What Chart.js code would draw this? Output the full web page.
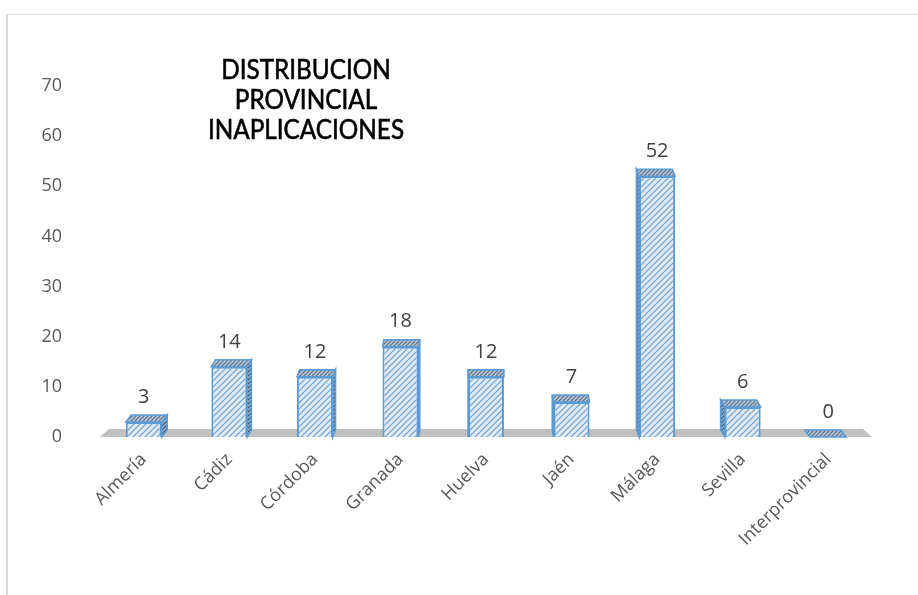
<!DOCTYPE html>
<html>
<head>
<meta charset="utf-8">
<script src="https://cdn.jsdelivr.net/npm/chart.js@4.4.1/dist/chart.umd.min.js"></script>
<style>
  html, body { margin: 0; padding: 0; background: #fff; }
  #wrap { position: relative; width: 918px; height: 595px; overflow: hidden; }
  #frame { position: absolute; left: 6px; top: 14px; width: 1000px; height: 1000px;
           border-top: 1px solid #d9d9d9; border-left: 2px solid #d9d9d9; }
  canvas { position: absolute; left: 0; top: 0; }
</style>
</head>
<body>
<div id="wrap">
  <div id="frame"></div>
  <canvas id="chart" width="918" height="595"></canvas>
</div>
<script>
const categories = ['Almería', 'Cádiz', 'Córdoba', 'Granada', 'Huelva', 'Jaén', 'Málaga', 'Sevilla', 'Interprovincial'];
const values = [3, 14, 12, 18, 12, 7, 52, 6, 0];
const titleLines = ['DISTRIBUCION', 'PROVINCIAL', 'INAPLICACIONES'];

function hatch(bg, fg, size) {
  const c = document.createElement('canvas');
  c.width = size; c.height = size;
  const g = c.getContext('2d');
  g.fillStyle = bg;
  g.fillRect(0, 0, size, size);
  g.strokeStyle = fg;
  g.lineWidth = 1.2;
  g.beginPath();
  g.moveTo(-1, size + 1); g.lineTo(size + 1, -1);
  g.moveTo(-1, 1); g.lineTo(1, -1);
  g.moveTo(size - 1, size + 1); g.lineTo(size + 1, size - 1);
  g.stroke();
  return g.createPattern(c, 'repeat');
}

const ctx = document.getElementById('chart').getContext('2d');
const frontFill = hatch('#deebf7', '#6f9fd0', 6);
const topFill = hatch('#b4c3d3', '#5f7389', 4);
const sideFill = hatch('#8faac6', '#3f5f82', 4);

const depth3d = {
  id: 'depth3d',
  beforeDatasetsDraw(chart) {
    const c = chart.ctx;
    const area = chart.chartArea;
    const base = chart.scales.y.getPixelForValue(0);
    // grey floor
    c.save();
    c.fillStyle = '#c0c0c0';
    c.beginPath();
    c.moveTo(area.left - 1, base);
    c.lineTo(area.right + 1, base);
    c.lineTo(area.right - 8, base - 8);
    c.lineTo(area.left + 8, base - 8);
    c.closePath();
    c.fill();

    const mid = (area.left + area.right) / 2;
    chart.getDatasetMeta(0).data.forEach(function(bar) {
      const w = bar.width, l = bar.x - w / 2, r = bar.x + w / 2;
      const dx = (mid - bar.x) * 0.016, dy = -7;
      c.lineWidth = 1.5;
      c.strokeStyle = '#5b9bd5';
      // side face
      const sx = dx > 0 ? r : l;
      c.fillStyle = sideFill;
      c.beginPath();
      c.moveTo(sx, bar.y); c.lineTo(sx + dx, bar.y + dy);
      c.lineTo(sx + dx, bar.base + dy); c.lineTo(sx, bar.base);
      c.closePath(); c.fill(); c.stroke();
      // top face
      c.fillStyle = topFill;
      c.beginPath();
      c.moveTo(l, bar.y); c.lineTo(r, bar.y);
      c.lineTo(r + dx, bar.y + dy); c.lineTo(l + dx, bar.y + dy);
      c.closePath(); c.fill(); c.stroke();
    });
    c.restore();
  },
  afterDatasetsDraw(chart) {
    const c = chart.ctx;
    c.save();
    c.fillStyle = '#404040';
    c.font = '20px "Open Sans"';
    c.textAlign = 'center';
    c.textBaseline = 'middle';
    chart.getDatasetMeta(0).data.forEach(function(bar, i) {
      c.fillText(String(values[i]), bar.x, bar.y - 25);
    });
    // title, slightly condensed
    c.fillStyle = '#000';
    c.strokeStyle = '#000';
    c.lineWidth = 0.6;
    c.font = '27px Lato';
    titleLines.forEach(function(t, i) {
      c.save();
      c.translate(306, 70 + i * 30);
      c.scale(0.9, 1);
      c.fillText(t, 0, 0);
      c.strokeText(t, 0, 0);
      c.restore();
    });
    c.restore();
  }
};

new Chart(ctx, {
  type: 'bar',
  data: {
    labels: categories,
    datasets: [{
      data: values,
      backgroundColor: frontFill,
      borderColor: '#5b9bd5',
      borderWidth: 2,
      categoryPercentage: 1,
      barPercentage: 0.42
    }]
  },
  options: {
    responsive: false,
    animation: false,
    layout: { padding: { left: 0, top: 86, right: 47, bottom: 0 } },
    plugins: { legend: { display: false }, tooltip: { enabled: false } },
    scales: {
      y: {
        min: 0, max: 70,
        ticks: { stepSize: 10, padding: 39, color: '#595959', font: { family: 'Open Sans', size: 18 } },
        grid: { display: false, drawTicks: false },
        border: { display: false },
        afterFit(scale) { scale.width = 101; }
      },
      x: {
        ticks: { minRotation: 45, maxRotation: 45, padding: 12, color: '#595959', font: { family: 'Open Sans', size: 18 } },
        grid: { display: false, drawTicks: false },
        border: { display: false },
        afterFit(scale) { scale.height = 158; }
      }
    }
  },
  plugins: [depth3d]
});
</script>
</body>
</html>
